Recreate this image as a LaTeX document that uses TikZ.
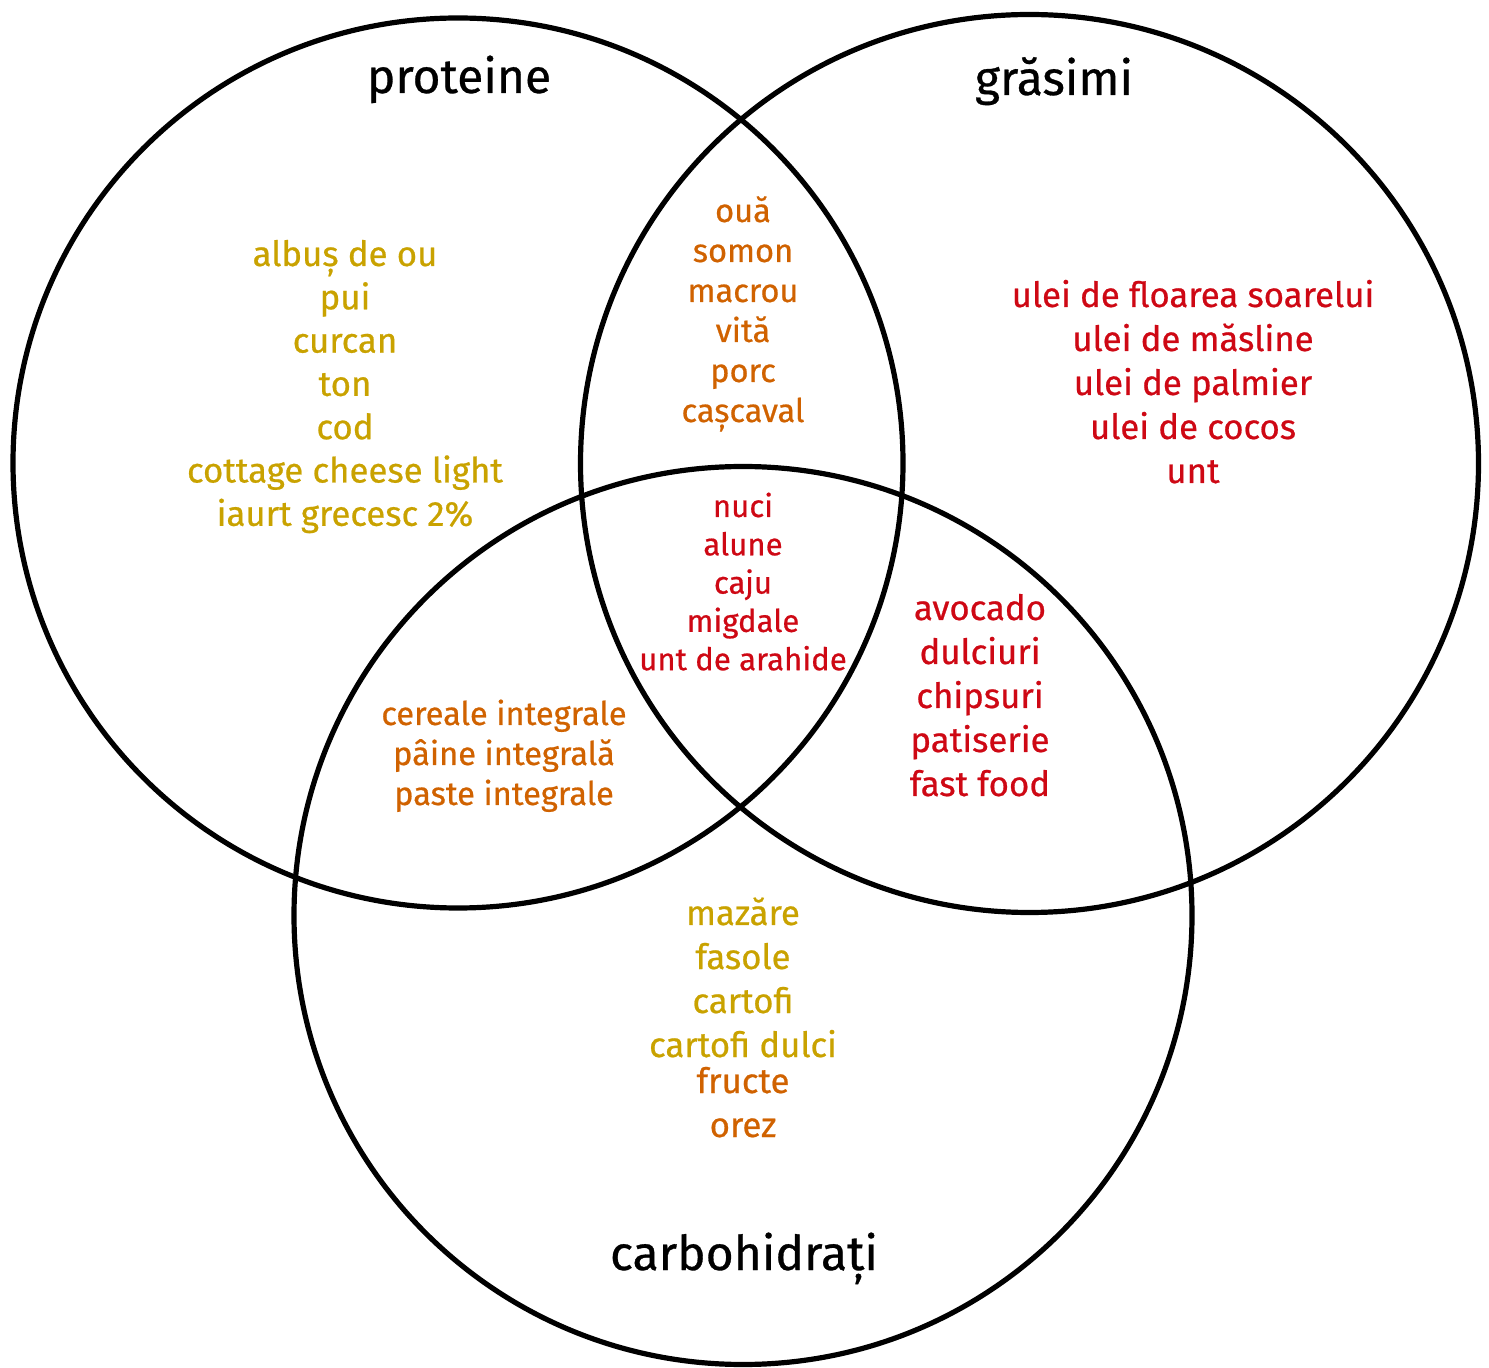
\documentclass[tikz,border=0pt]{standalone}
\usepackage{fontspec}
\setmainfont{Fira Sans}[FakeBold=0.6]
\definecolor{cgold}{RGB}{201,162,0}
\definecolor{corange}{RGB}{208,98,0}
\definecolor{cred}{RGB}{206,8,20}
\begin{document}
\begin{tikzpicture}[x=0.5pt,y=-0.5pt,
  ring/.style={circle,draw=black,line width=2.6pt,inner sep=0pt},
  ttl/.style={anchor=base,font=\fontsize{24}{28}\selectfont,text=black,inner sep=0pt},
  big/.style={anchor=base,font=\fontsize{17.4}{21}\selectfont,inner sep=0pt},
  mid/.style={anchor=base,font=\fontsize{16.3}{20}\selectfont,inner sep=0pt},
  small/.style={anchor=base,font=\fontsize{15.6}{19}\selectfont,inner sep=0pt}]
\useasboundingbox (0,0) rectangle (1489,1368);
\node[ring,minimum size=445pt] (P) at (458,463) {};
\node[ring,minimum size=449pt] (G) at (1029.5,463.5) {};
\node[ring,minimum size=449pt] (C) at (743,915.5) {};
% titles
\node[ttl] (tp) at (459,93) {proteine};
\node[ttl] (tg) at (1054,95) {grăsimi};
\node[ttl] (tc) at (744,1270) {carbohidrați};
% proteine only
\node[big,text=cgold] (p1) at (345,266) {albuș de ou};
\node[big,text=cgold] (p2) at (345,309.3) {pui};
\node[big,text=cgold] (p3) at (345,352.6) {curcan};
\node[big,text=cgold] (p4) at (345,395.9) {ton};
\node[big,text=cgold] (p5) at (345,439.2) {cod};
\node[big,text=cgold] (p6) at (345,482.5) {cottage cheese light};
\node[big,text=cgold] (p7) at (345,525.8) {iaurt grecesc 2\%};
% proteine & grasimi
\node[mid,text=corange] (pg1) at (743,222) {ouă};
\node[mid,text=corange] (pg2) at (743,262) {somon};
\node[mid,text=corange] (pg3) at (743,302) {macrou};
\node[mid,text=corange] (pg4) at (743,342) {vită};
\node[mid,text=corange] (pg5) at (743,382) {porc};
\node[mid,text=corange] (pg6) at (743,422) {cașcaval};
% all three
\node[small,text=cred] (a1) at (743,517) {nuci};
\node[small,text=cred] (a2) at (743,555.3) {alune};
\node[small,text=cred] (a3) at (743,593.6) {caju};
\node[small,text=cred] (a4) at (743,631.9) {migdale};
\node[small,text=cred] (a5) at (743,670.2) {unt de arahide};
% grasimi only
\node[big,text=cred] (g1) at (1193,307) {ulei de floarea soarelui};
\node[big,text=cred] (g2) at (1193,351) {ulei de măsline};
\node[big,text=cred] (g3) at (1193,395) {ulei de palmier};
\node[big,text=cred] (g4) at (1193,439) {ulei de cocos};
\node[big,text=cred] (g5) at (1193,483) {unt};
% grasimi & carbo
\node[big,text=cred] (gc1) at (980,620) {avocado};
\node[big,text=cred] (gc2) at (980,664) {dulciuri};
\node[big,text=cred] (gc3) at (980,708) {chipsuri};
\node[big,text=cred] (gc4) at (980,752) {patiserie};
\node[big,text=cred] (gc5) at (980,796) {fast food};
% proteine & carbo
\node[mid,text=corange] (pc1) at (504,725) {cereale integrale};
\node[mid,text=corange] (pc2) at (504,765) {pâine integrală};
\node[mid,text=corange] (pc3) at (504,805) {paste integrale};
% carbo only
\node[big,text=cgold] (c1) at (743,925) {mazăre};
\node[big,text=cgold] (c2) at (743,969) {fasole};
\node[big,text=cgold] (c3) at (743,1013) {cartofi};
\node[big,text=cgold] (c4) at (743,1057) {cartofi dulci};
\node[big,text=corange] (c5) at (743,1093) {fructe};
\node[big,text=corange] (c6) at (743,1137) {orez};
\end{tikzpicture}
\end{document}
